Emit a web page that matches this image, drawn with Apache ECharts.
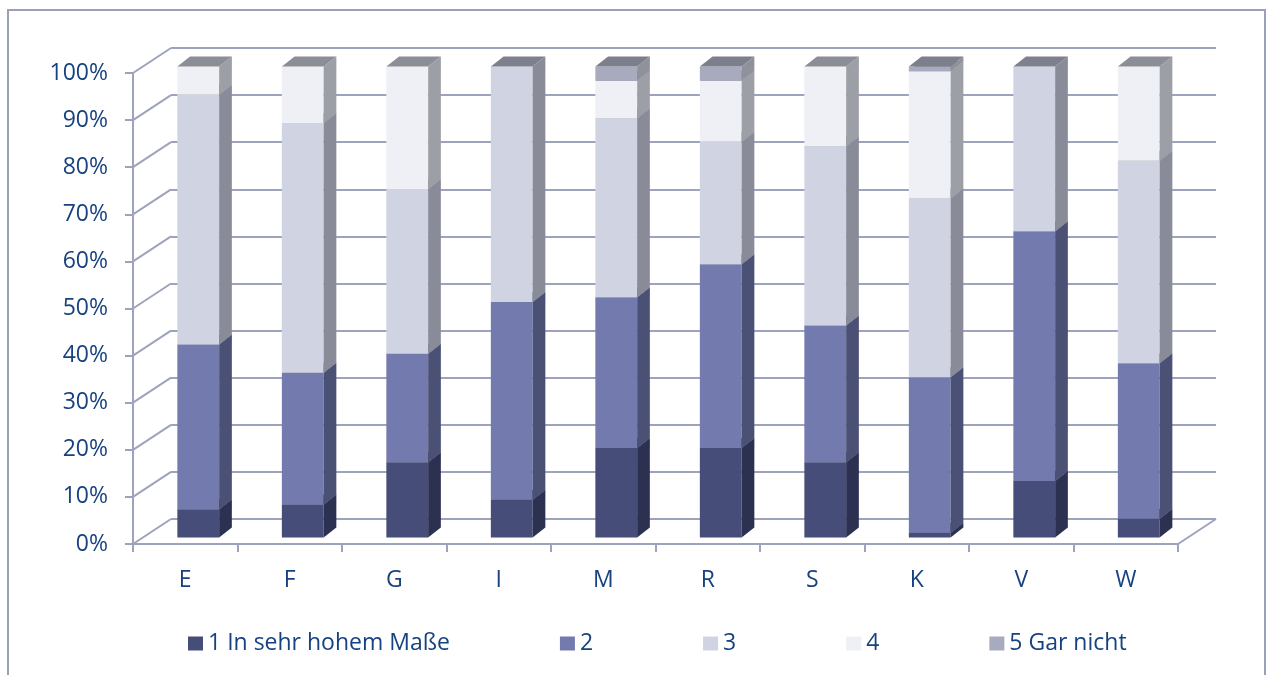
<!DOCTYPE html>
<html>
<head>
<meta charset="utf-8">
<script src="https://cdn.jsdelivr.net/npm/echarts@6/dist/echarts.min.js"></script>
<style>
    html, body { margin: 0; padding: 0; background: #fff; }
    #frame { position: absolute; left: 7px; top: 9px; width: 1259px; height: 680px; border: 2px solid #9aa0b6; box-sizing: border-box; }
    #chart { position: absolute; left: 0; top: 0; width: 1271px; height: 675px; }
</style>
</head>
<body>
<div id="frame"></div>
<div id="chart"></div>
<script>
// Anteile je Bereich (Prozent)
const categories = ['E', 'F', 'G', 'I', 'M', 'R', 'S', 'K', 'V', 'W']
const seriesNames = ['1 In sehr hohem Maße', '2', '3', '4', '5 Gar nicht']
const s1 = [6, 7, 16, 8, 19, 19, 16, 1, 12, 4]
const s2 = [35, 28, 23, 42, 32, 39, 29, 33, 53, 33]
const s3 = [53, 53, 35, 50, 38, 26, 38, 38, 35, 43]
const s4 = [6, 12, 26, 0, 8, 13, 17, 27, 0, 20]
const s5 = [0, 0, 0, 0, 3, 3, 0, 1, 0, 0]
const yTicks = [0, 10, 20, 30, 40, 50, 60, 70, 80, 90, 100]

// farben: vorderseite, seite, deckel
const FRONT = ['#454d78', '#727aae', '#d0d3e2', '#eef0f5', '#a8abbd']
const SIDE = ['#2c3152', '#4a5174', '#898c98', '#9d9fa6', '#8f919b']
const TOP = ['#3a4064', '#5d648f', '#7e818d', '#8c8e97', '#7d808c']

const TXT = '#17427f'
const LINE = '#9ea3bd'
const FONT = 'Open Sans'

// 3D-versatz
const DX = 38, DY = -25       // tiefe der wand
const OX = 13, OY = -6.5       // lage der säulen
const SX = 12.7, SY = -10      // tiefe der säulen

let chart = echarts.init(document.getElementById('chart'))

let all = [s1, s2, s3, s4, s5]
let stacks = []
let base = categories.map(() => 0)
all.forEach(arr => {
    stacks.push(arr.map((v, i) => {
        let item = [i, base[i], base[i] + v]
        base[i] += v
        return item
    }))
})

function barRender(k) {
    return function (params, api) {
        let i = api.value(0), v0 = api.value(1), v1 = api.value(2)
        if (v1 - v0 <= 0) return
        let b = api.coord([i, v0])
        let t = api.coord([i, v1])
        let bw = api.size([1, 0])[0] * 0.4
        let x0 = b[0] - bw / 2 + OX, x1 = x0 + bw
        let yb = b[1] + OY, yt = t[1] + OY
        return {
            type: 'group',
            children: [
                { type: 'rect', shape: { x: x0, y: yt, width: bw, height: yb - yt }, style: { fill: FRONT[k] } },
                { type: 'polygon', shape: { points: [[x1, yb], [x1 + SX, yb + SY], [x1 + SX, yt + SY], [x1, yt]] }, style: { fill: SIDE[k] } },
                { type: 'polygon', shape: { points: [[x0, yt], [x1, yt], [x1 + SX, yt + SY], [x0 + SX, yt + SY]] }, style: { fill: TOP[k] } }
            ]
        }
    }
}

function wallRender(params, api) {
    let p = api.coord([0, api.value(0)])
    let bw = api.size([1, 0])[0]
    let x = p[0] - bw / 2
    return { type: 'line', shape: { x1: x, y1: p[1], x2: x + DX, y2: p[1] + DY }, style: { stroke: LINE, lineWidth: 2 } }
}

function floorRender(params, api) {
    let p = api.coord([api.value(0), 0])
    let bw = api.size([1, 0])[0]
    let x = p[0] + bw / 2
    return { type: 'line', shape: { x1: x, y1: p[1], x2: x + DX, y2: p[1] + DY }, style: { stroke: LINE, lineWidth: 2 } }
}

let series = [
    { type: 'custom', name: 'wall', xAxisIndex: 0, yAxisIndex: 0, silent: true, z: 1, data: yTicks.map(v => [v]), renderItem: wallRender },
    { type: 'custom', name: 'floor', xAxisIndex: 0, yAxisIndex: 0, silent: true, z: 1, data: [[categories.length - 1]], renderItem: floorRender }
]
seriesNames.forEach((name, k) => {
    series.push({
        type: 'custom',
        name: name,
        xAxisIndex: 0,
        yAxisIndex: 0,
        z: 3,
        itemStyle: { color: FRONT[k] },
        data: stacks[k],
        renderItem: barRender(k)
    })
})

let option = {
    animation: false,
    textStyle: { fontFamily: FONT },
    legend: {
        data: seriesNames,
        left: 183,
        top: 627,
        itemWidth: 15,
        itemHeight: 14,
        itemGap: 110,
        selectedMode: false,
        icon: 'rect',
        textStyle: { color: TXT, fontSize: 23, fontFamily: FONT }
    },
    grid: [
        { left: 133, right: 93, top: 73, bottom: 131 },
        { left: 171, right: 55, top: 48, bottom: 156 }
    ],
    xAxis: [
        {
            type: 'category', gridIndex: 0, data: categories,
            axisLine: { lineStyle: { color: LINE, width: 2 } },
            axisTick: { show: true, length: 8, lineStyle: { color: LINE, width: 2 } },
            axisLabel: { color: TXT, fontSize: 23, margin: 25, fontFamily: FONT }
        },
        {
            type: 'category', gridIndex: 1, data: categories,
            axisLine: { show: false }, axisTick: { show: false }, axisLabel: { show: false }
        }
    ],
    yAxis: [
        {
            type: 'value', gridIndex: 0, min: 0, max: 100, interval: 10,
            axisLine: { show: true, lineStyle: { color: LINE, width: 2 } },
            axisTick: { show: true, length: 8, lineStyle: { color: LINE, width: 2 } },
            splitLine: { show: false },
            axisLabel: { color: TXT, fontSize: 23, margin: 25, formatter: '{value}%', fontFamily: FONT }
        },
        {
            type: 'value', gridIndex: 1, min: 0, max: 100, interval: 10,
            axisLine: { show: false }, axisTick: { show: false }, axisLabel: { show: false },
            splitLine: { show: true, lineStyle: { color: LINE, width: 2 } }
        }
    ],
    series: series
}
chart.setOption(option)
</script>
</body>
</html>
